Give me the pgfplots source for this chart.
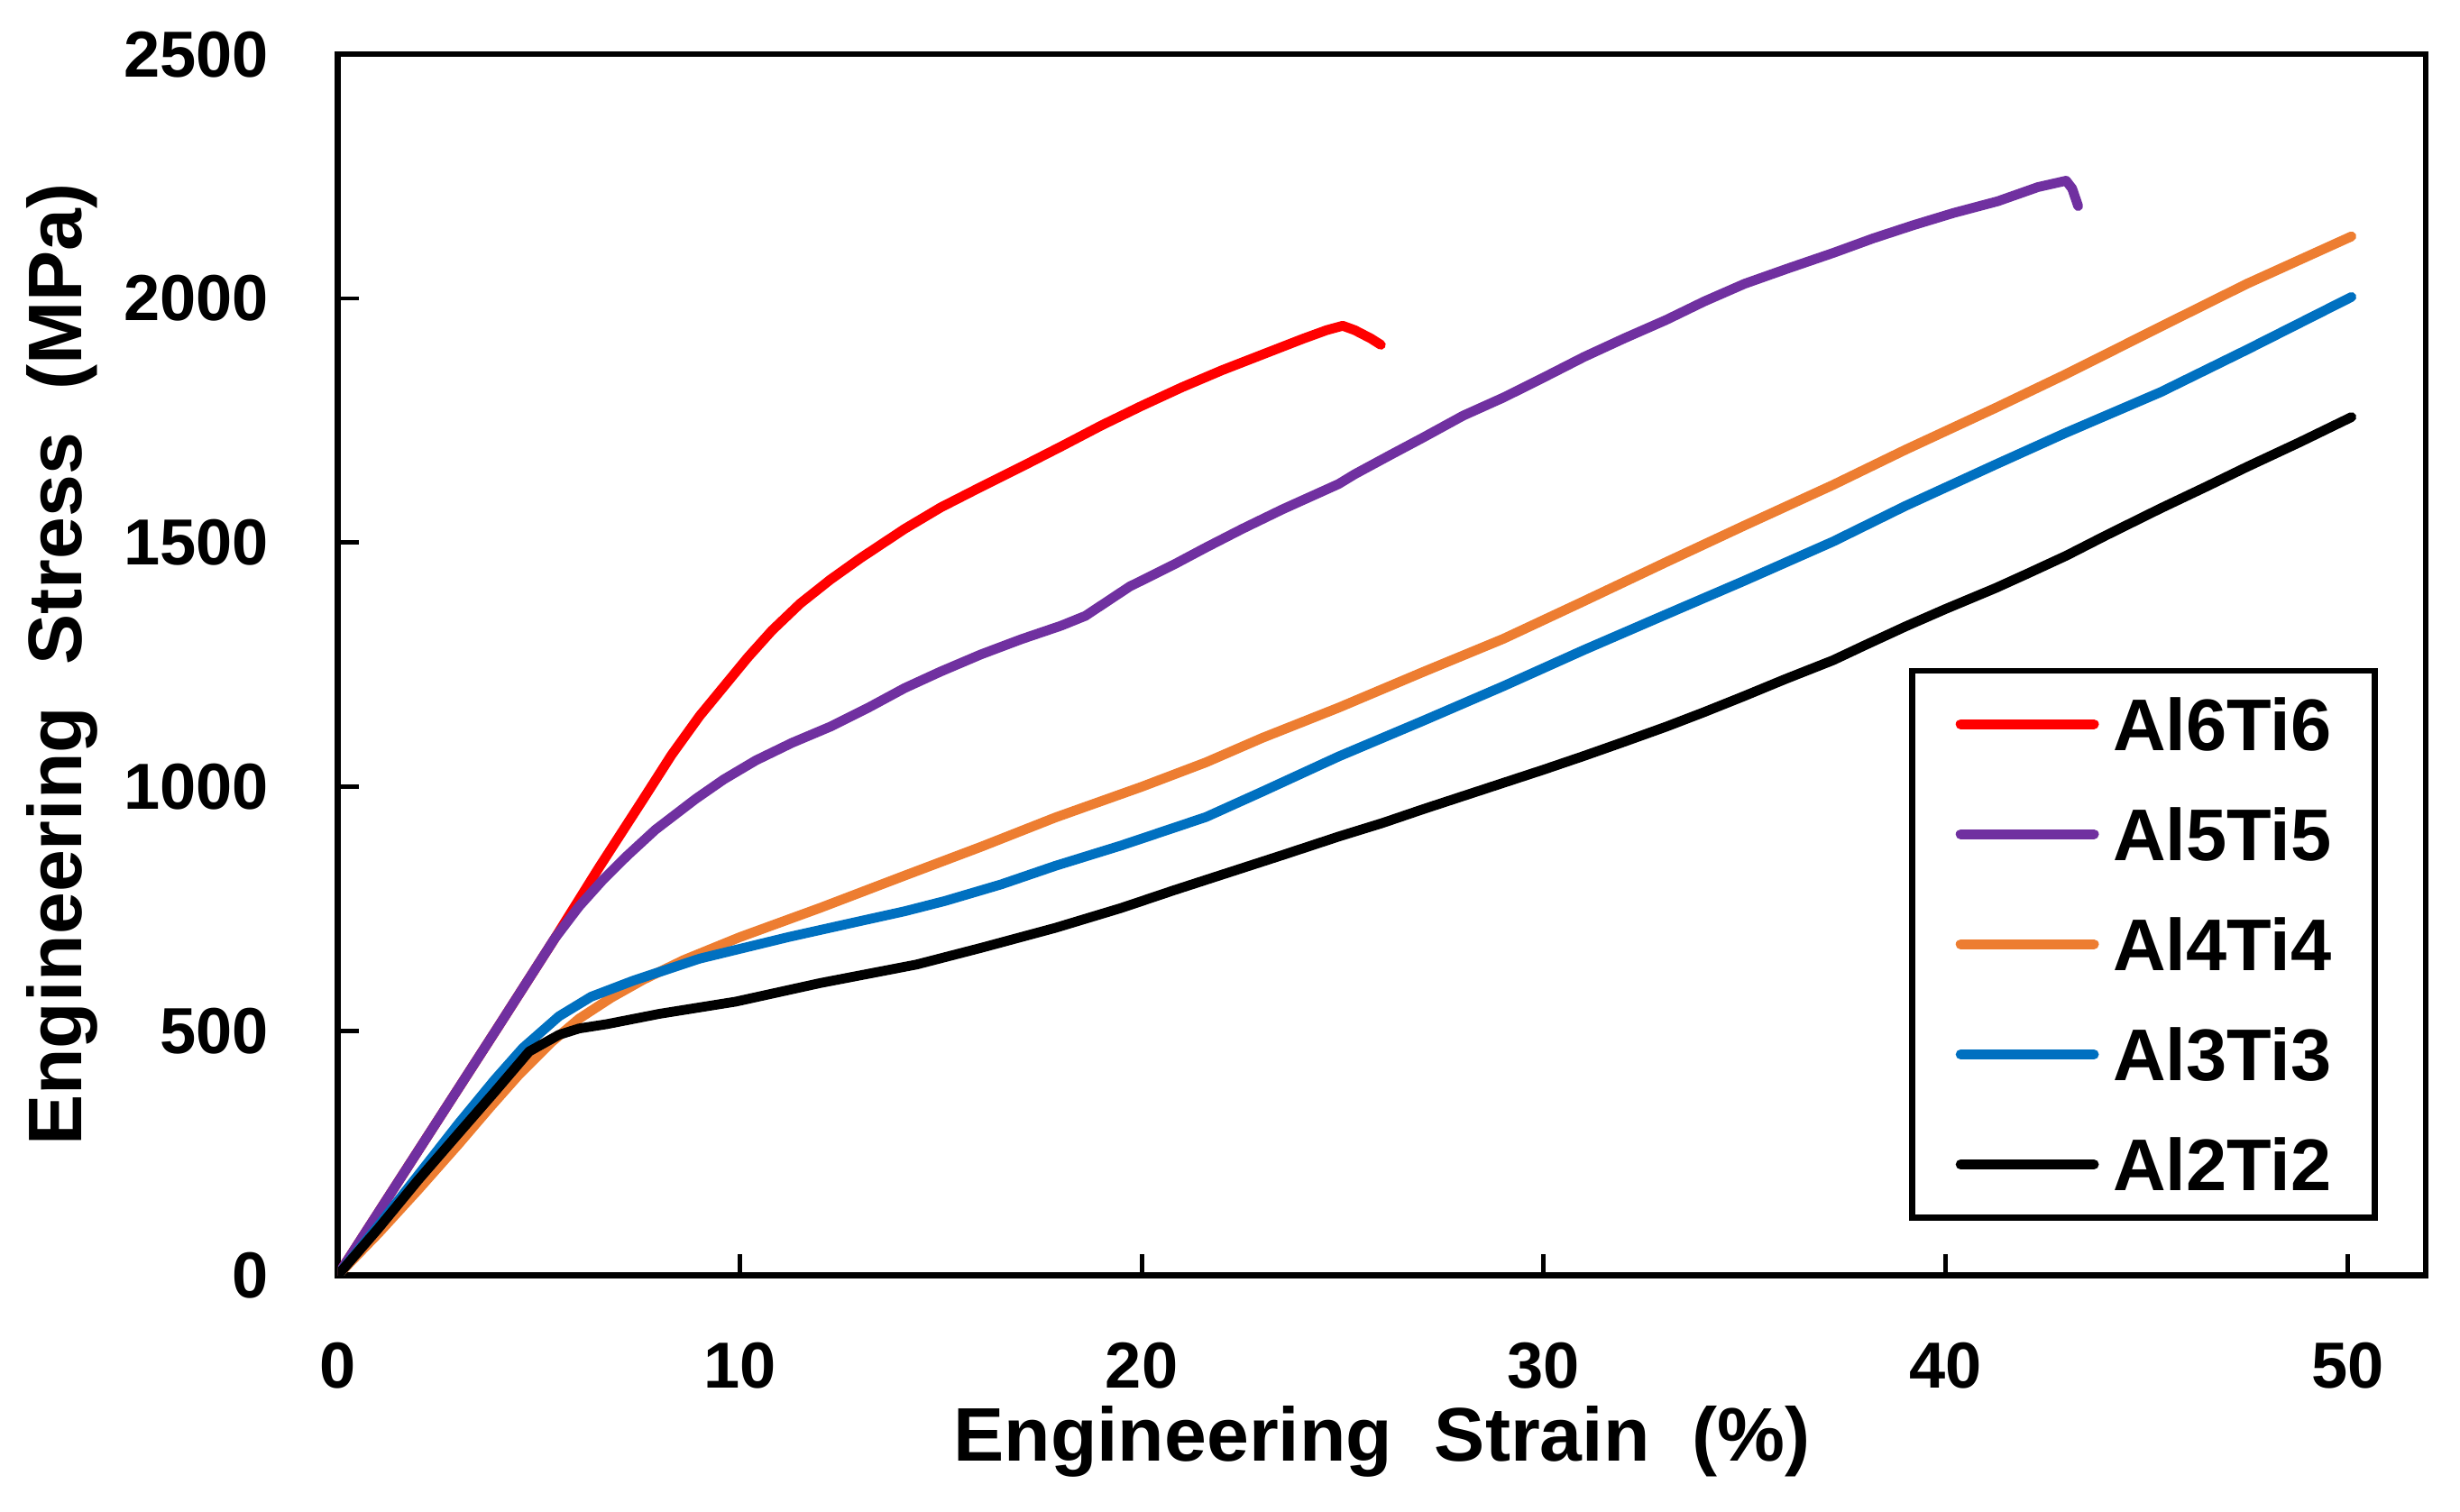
\documentclass[border=0pt]{standalone}
\usepackage{fontspec}
\setmainfont{Liberation Sans}
\usepackage{pgfplots}
\pgfplotsset{compat=1.18}
\definecolor{cRed}{HTML}{FF0000}
\definecolor{cPurple}{HTML}{7030A0}
\definecolor{cOrange}{HTML}{ED7D31}
\definecolor{cBlue}{HTML}{0070C0}
\begin{document}
\begin{tikzpicture}
\begin{axis}[
  scale only axis, width=384.9pt, height=225.1pt,
  xmin=0, xmax=51.95, ymin=0, ymax=2500,
  xtick={0,10,20,30,40,50}, ytick={0,500,1000,1500,2000,2500},
  axis line style={line width=1.1pt},
  tick style={line width=0.8pt, black},
  major tick length=3.8pt,
  tick align=inside,
  xtick pos=bottom, ytick pos=left,
  /pgf/number format/assume math mode=true,
  /pgf/number format/1000 sep={},
  ticklabel style={font=\bfseries\fontsize{12}{12}\selectfont, inner sep=0pt},
  xticklabel style={anchor=base, yshift=-20.8pt},
  yticklabel style={anchor=east, xshift=-12.6pt},
  every axis x label/.style={at={(axis description cs:0.5,-0.152)}, anchor=base, inner sep=0pt, font=\bfseries\fontsize{14}{14}\selectfont},
  every axis y label/.style={at={(axis description cs:-0.1226,0.5)}, rotate=90, anchor=base, inner sep=0pt, font=\bfseries\fontsize{14}{14}\selectfont},
  xlabel={Engineering\ \ Strain\ \ (\%)},
  ylabel={Engineering\ \ Stress\ \ (MPa)},
  legend cell align=left,
  legend style={at={(axis description cs:0.977,0.0444)}, anchor=south east, draw=black, line width=1.1pt,
    inner xsep=8pt, inner ysep=5.0pt, row sep=10.6pt, column sep=2.6pt,
    font=\bfseries\fontsize{13.5}{13.5}\selectfont,
    nodes={inner sep=0pt, text height=9.7pt, text depth=0pt}},
  legend image code/.code={\draw[#1, line cap=round] (0pt,0pt) -- (24.6pt,0pt);},
  every axis plot/.append style={line width=1.8pt, line join=round, line cap=round},
]
\addplot[cRed] coordinates {
(0,0) (2,255) (4,510) (5.4,690) (6.5,835) (7.6,975) (8.3,1065) (9.0,1145) (9.6,1205)
(10.2,1265) (10.8,1320) (11.5,1375) (12.25,1424) (13.0,1468) (14.1,1528) (15.0,1572)
(16.0,1614) (17.0,1655) (18.0,1697) (19.0,1740) (20.0,1780) (21.0,1818) (22.0,1853)
(23.0,1885) (24.0,1917) (24.6,1935) (25.0,1944) (25.3,1935) (25.7,1918) (25.95,1905)
};
\addlegendentry{Al6Ti6}
\addplot[cPurple] coordinates {
(0,0) (2,255) (4,510) (5.4,690) (6.0,755) (6.6,810) (7.2,859) (7.9,912) (8.9,975)
(9.6,1015) (10.4,1054) (11.3,1090) (12.25,1123) (13.2,1162) (14.1,1202) (15.0,1236)
(16.0,1271) (17.0,1302) (18.0,1330) (18.6,1350) (19.7,1410) (20.8,1455) (21.6,1490)
(22.5,1528) (23.5,1568) (24.9,1620) (25.3,1640) (26.2,1680) (27.0,1715) (28.0,1760)
(29.0,1797) (30.0,1838) (31.0,1880) (32.0,1918) (33.05,1956) (34.0,1994) (35.0,2030)
(36.1,2062) (37.2,2093) (38.2,2123) (39.2,2150) (40.2,2175) (41.3,2199) (42.3,2228)
(43.0,2241) (43.15,2225) (43.3,2189)
};
\addlegendentry{Al5Ti5}
\addplot[cOrange] coordinates {
(0,0) (1,85) (2,175) (3,268) (3.8,345) (4.5,410) (5.3,476) (6.0,525) (6.8,568)
(7.6,605) (8.6,645) (10,692) (12,752) (14.1,818) (16,877) (17.85,937) (20,1000)
(21.6,1050) (23,1100) (24.9,1162) (27,1235) (29,1303) (31,1380) (33.05,1460)
(35,1535) (37.2,1618) (39,1690) (41.25,1776) (43,1845) (45.35,1942) (47.5,2030) (50.1,2127)
};
\addlegendentry{Al4Ti4}
\addplot[cBlue] coordinates {
(0,0) (1,100) (2,205) (3,310) (3.9,400) (4.6,465) (5.5,530) (6.3,570) (7.35,603)
(9,648) (11.2,692) (13,725) (14.1,745) (15.1,766) (16.5,800) (17.85,838) (19.5,880)
(21.6,938) (23,990) (24.9,1062) (27,1135) (29,1206) (31,1280) (33.05,1353) (35,1422)
(37.2,1502) (39,1575) (41.25,1660) (43,1725) (45.35,1808) (47.5,1895) (50.1,2003)
};
\addlegendentry{Al3Ti3}
\addplot[black] coordinates {
(0,0) (1,95) (2,195) (3,290) (3.9,375) (4.76,458) (5.5,492) (6.0,505) (6.7,514)
(8,535) (9.9,560) (12,598) (14.4,636) (16,670) (17.85,711) (19.5,752) (20.8,788) (22,820)
(23.5,860) (24.9,898) (26,926) (27,954) (28,981) (29,1008) (30,1035) (31,1063) (32,1092)
(33.05,1123) (34,1153) (35,1186) (36,1220) (37.2,1259) (38,1290) (39,1328) (40,1364)
(41.25,1407) (42,1435) (43,1473) (44,1515) (45.35,1570) (46.5,1615) (47.5,1655) (48.8,1705) (50.1,1757)
};
\addlegendentry{Al2Ti2}
\end{axis}
\pgfresetboundingbox
\path[use as bounding box] ([xshift=-62.3pt,yshift=-43.6pt]current axis.south west) rectangle ([xshift=6.3pt,yshift=10pt]current axis.north east);
\end{tikzpicture}
\end{document}
